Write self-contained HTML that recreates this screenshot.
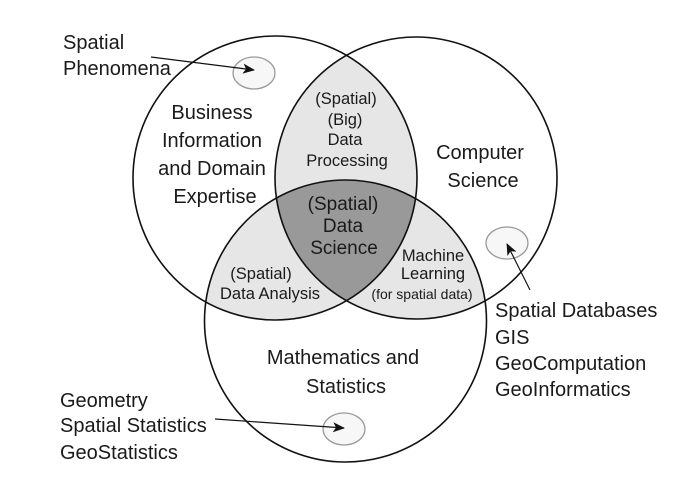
<!DOCTYPE html>
<html><head><meta charset="utf-8"><style>
html,body{margin:0;padding:0;background:#fff;}
svg{display:block;}
text{font-family:"Liberation Sans","DejaVu Sans",sans-serif;fill:#1a1a1a;}
</style></head><body>
<svg width="693" height="491" viewBox="0 0 693 491" xmlns="http://www.w3.org/2000/svg">
<defs>
<clipPath id="cA"><circle cx="275" cy="178" r="142"/></clipPath>
<clipPath id="cB"><circle cx="416" cy="178" r="141"/></clipPath>
<clipPath id="cC"><circle cx="345.5" cy="321" r="141"/></clipPath>
<marker id="ar" markerWidth="12" markerHeight="10" refX="11" refY="5" orient="auto" markerUnits="userSpaceOnUse">
<path d="M0,0 L12,5 L0,10 L3,5 Z" fill="#111"/></marker>
</defs>
<g clip-path="url(#cA)"><circle cx="416" cy="178" r="141" fill="#e6e6e6"/><circle cx="345.5" cy="321" r="141" fill="#e6e6e6"/></g>
<g clip-path="url(#cB)"><circle cx="345.5" cy="321" r="141" fill="#e6e6e6"/></g>
<g clip-path="url(#cA)"><g clip-path="url(#cB)"><circle cx="345.5" cy="321" r="141" fill="#999"/></g></g>
<g fill="none" stroke="#111" stroke-width="1.6">
<circle cx="275" cy="178" r="142"/>
<circle cx="416" cy="178" r="141"/>
<circle cx="345.5" cy="321" r="141"/>
</g>
<g fill="#f7f7f7" stroke="#999" stroke-width="1.3">
<ellipse cx="254" cy="73" rx="21" ry="16"/>
<ellipse cx="507" cy="243" rx="21" ry="16"/>
<ellipse cx="344" cy="429" rx="21" ry="16"/>
</g>
<g stroke="#111" stroke-width="1.2" fill="none">
<line x1="151" y1="57" x2="254" y2="70" marker-end="url(#ar)"/>
<line x1="530" y1="290" x2="507" y2="244" marker-end="url(#ar)"/>
<line x1="215" y1="419" x2="344" y2="428" marker-end="url(#ar)"/>
</g>
<g font-size="20">
<text x="63" y="49">Spatial</text>
<text x="63" y="75">Phenomena</text>
<text x="495" y="317">Spatial Databases</text>
<text x="495" y="344">GIS</text>
<text x="495" y="370">GeoComputation</text>
<text x="495" y="396">GeoInformatics</text>
<text x="60" y="407">Geometry</text>
<text x="60" y="432">Spatial Statistics</text>
<text x="60" y="459">GeoStatistics</text>
</g>
<g font-size="20" text-anchor="middle">
<text x="212" y="119">Business</text>
<text x="212" y="147">Information</text>
<text x="212" y="175">and Domain</text>
<text x="215" y="203">Expertise</text>
<text x="480" y="159">Computer</text>
<text x="483" y="187">Science</text>
<text x="343" y="364">Mathematics and</text>
<text x="346" y="393">Statistics</text>
</g>
<g font-size="16.5" text-anchor="middle">
<text x="346" y="104">(Spatial)</text>
<text x="345" y="125">(Big)</text>
<text x="345" y="145">Data</text>
<text x="347" y="166">Processing</text>
<text x="261" y="279">(Spatial)</text>
<text x="270" y="299">Data Analysis</text>
<text x="433" y="261">Machine</text>
<text x="433" y="279">Learning</text>
</g>
<text x="422" y="299" font-size="14" text-anchor="middle">(for spatial data)</text>
<g font-size="19" text-anchor="middle">
<text x="343" y="210">(Spatial)</text>
<text x="343" y="232">Data</text>
<text x="344" y="254">Science</text>
</g>
</svg>
</body></html>
